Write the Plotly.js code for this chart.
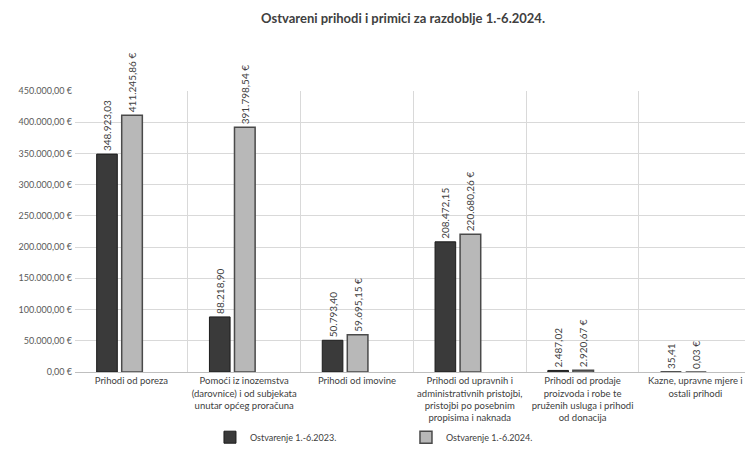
<!DOCTYPE html>
<html>
<head>
<meta charset="utf-8">
<script src="https://cdn.plot.ly/plotly-3.0.1.min.js"></script>
<style>html,body{margin:0;padding:0;background:#fff;}#chart{width:745px;height:454px;}</style>
</head>
<body>
<div id="chart"></div>
<script>
const categories = [
  "Prihodi od poreza",
  "Pomoći iz inozemstva<br>(darovnice) i od subjekata<br>unutar općeg proračuna",
  "Prihodi od imovine",
  "Prihodi od upravnih i<br>administrativnih pristojbi,<br>pristojbi po posebnim<br>propisima i naknada",
  "Prihodi od prodaje<br>proizvoda i robe te<br>pruženih usluga i prihodi<br>od donacija",
  "Kazne, upravne mjere i<br>ostali prihodi"
];
const values2023 = [348923.03, 88218.90, 50793.40, 208472.15, 2487.02, 35.41];
const values2024 = [411245.86, 391798.54, 59695.15, 220680.26, 2920.67, 0.03];
const name2023 = "Ostvarenje 1.-6.2023.";
const name2024 = "Ostvarenje 1.-6.2024.";
const yTicks = [0, 50000, 100000, 150000, 200000, 250000, 300000, 350000, 400000, 450000];

function fmt(v) {
  const parts = v.toFixed(2).split(".");
  parts[0] = parts[0].replace(/\B(?=(\d{3})+(?!\d))/g, ".");
  return parts[0] + "," + parts[1];
}

const font = "Lato, 'Open Sans', sans-serif";

const trace2023 = {
  type: "bar",
  name: name2023,
  x: categories,
  y: values2023,
  text: values2023.map(fmt),
  textposition: "outside",
  textangle: -90,
  constraintext: "none",
  cliponaxis: false,
  textfont: {family: font, size: 10, color: "#404040"},
  offset: -0.308,
  width: 0.183,
  marker: {color: "#3a3a3a", line: {color: "#1c1c1c", width: 1}}
};
const trace2024 = {
  type: "bar",
  name: name2024,
  x: categories,
  y: values2024,
  text: values2024.map(v => fmt(v) + " €"),
  textposition: "outside",
  textangle: -90,
  constraintext: "none",
  cliponaxis: false,
  textfont: {family: font, size: 10, color: "#404040"},
  offset: -0.086,
  width: 0.183,
  marker: {color: "#b8b8b8", line: {color: "#4a4a4a", width: 1.5}}
};

const layout = {
  width: 745,
  height: 454,
  margin: {l: 75, r: 0, t: 91, b: 82},
  paper_bgcolor: "#ffffff",
  plot_bgcolor: "#ffffff",
  font: {family: font, color: "#404040"},
  title: {
    text: "<b>Ostvareni prihodi i primici za razdoblje 1.-6.2024.</b>",
    font: {family: font, size: 13, color: "#404040"},
    x: 0.541, xref: "container", xanchor: "center",
    y: 0.96, yref: "container", yanchor: "middle"
  },
  showlegend: true,
  legend: {
    orientation: "h",
    x: 0.494, xref: "paper", xanchor: "center",
    y: -0.232, yanchor: "middle",
    bgcolor: "rgba(0,0,0,0)",
    font: {family: font, size: 9, color: "#404040"},
    entrywidth: 151,
    itemwidth: 30,
    traceorder: "normal"
  },
  xaxis: {
    type: "category",
    range: [-0.5, 5.44],
    tickson: "boundaries",
    tickangle: 0,
    showgrid: true,
    gridcolor: "#d9d9d9",
    gridwidth: 1,
    showline: true,
    linecolor: "#bfbfbf",
    linewidth: 1,
    ticks: "",
    tickfont: {family: font, size: 9.5, color: "#404040"},
    fixedrange: true
  },
  yaxis: {
    range: [0, 450000],
    tickmode: "array",
    tickvals: yTicks,
    ticktext: yTicks.map(v => fmt(v) + " €"),
    showgrid: true,
    gridcolor: "#d9d9d9",
    gridwidth: 1,
    zeroline: false,
    showline: false,
    ticks: "",
    ticklabelstandoff: 2,
    tickfont: {family: font, size: 9, color: "#595959"},
    fixedrange: true
  }
};

Plotly.newPlot("chart", [trace2023, trace2024], layout, {displayModeBar: false, staticPlot: true});
</script>
</body>
</html>
